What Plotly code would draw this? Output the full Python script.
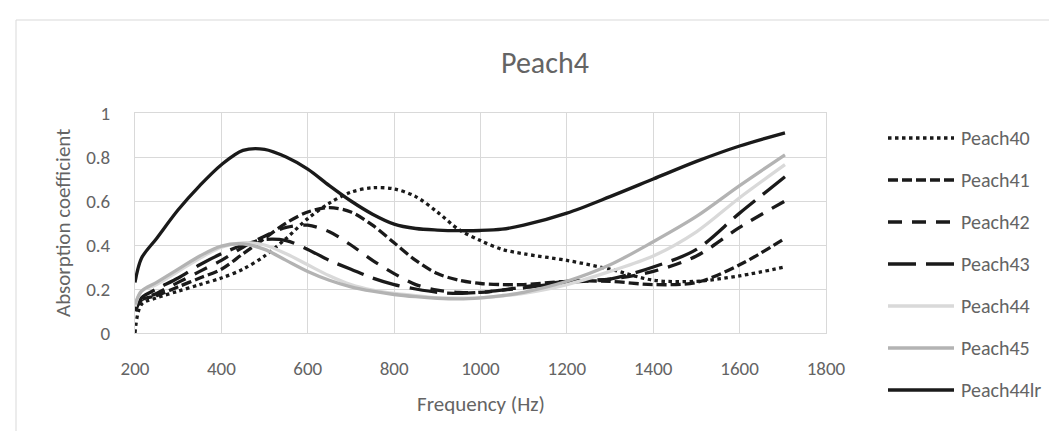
import plotly.graph_objects as go

freq = [200, 215, 250, 300, 350, 400, 450, 500, 550, 600, 650, 700, 750, 800, 850,
        900, 950, 1000, 1050, 1100, 1200, 1300, 1400, 1500, 1600, 1705]

peach40 = [0.00, 0.13, 0.16, 0.19, 0.22, 0.25, 0.29, 0.35, 0.43, 0.52, 0.59, 0.64, 0.66, 0.655, 0.62,
           0.55, 0.47, 0.42, 0.38, 0.36, 0.33, 0.29, 0.24, 0.235, 0.26, 0.30]
peach41 = [0.10, 0.15, 0.17, 0.21, 0.25, 0.29, 0.36, 0.43, 0.50, 0.55, 0.57, 0.55, 0.49, 0.41, 0.33,
           0.27, 0.24, 0.225, 0.22, 0.22, 0.235, 0.235, 0.22, 0.23, 0.31, 0.43]
peach42 = [0.10, 0.15, 0.18, 0.23, 0.28, 0.33, 0.39, 0.44, 0.48, 0.49, 0.46, 0.40, 0.33, 0.27, 0.22,
           0.195, 0.185, 0.185, 0.195, 0.21, 0.235, 0.245, 0.28, 0.35, 0.48, 0.60]
peach43 = [0.11, 0.16, 0.20, 0.25, 0.31, 0.36, 0.40, 0.425, 0.42, 0.38, 0.33, 0.29, 0.25, 0.22, 0.20,
           0.185, 0.18, 0.185, 0.195, 0.205, 0.23, 0.245, 0.30, 0.38, 0.545, 0.71]
peach44 = [0.12, 0.19, 0.22, 0.28, 0.34, 0.39, 0.41, 0.40, 0.36, 0.31, 0.26, 0.22, 0.195, 0.18, 0.17,
           0.16, 0.158, 0.16, 0.168, 0.18, 0.22, 0.28, 0.35, 0.46, 0.615, 0.765]
peach45 = [0.13, 0.19, 0.23, 0.29, 0.35, 0.395, 0.405, 0.38, 0.33, 0.28, 0.24, 0.21, 0.19, 0.175, 0.165,
           0.158, 0.155, 0.16, 0.17, 0.185, 0.235, 0.31, 0.415, 0.53, 0.67, 0.81]
peach44lr = [0.23, 0.34, 0.43, 0.56, 0.67, 0.765, 0.83, 0.835, 0.80, 0.745, 0.67, 0.60, 0.54, 0.495, 0.475,
             0.468, 0.465, 0.466, 0.472, 0.49, 0.545, 0.62, 0.70, 0.78, 0.85, 0.91]

names = ["Peach40", "Peach41", "Peach42", "Peach43", "Peach44", "Peach45", "Peach44lr"]
series = [peach40, peach41, peach42, peach43, peach44, peach45, peach44lr]
colors = ["#1a1a1a", "#1a1a1a", "#1a1a1a", "#1a1a1a", "#d9d9d9", "#b3b3b3", "#1a1a1a"]
dashes = ["3.5px,3.5px", "10px,4px", "14px,10px", "28px,10px", "solid", "solid", "solid"]

FONT = "Carlito, Calibri, Lato, sans-serif"
TXT = "#646464"
LW = 3.3

W, H = 1057, 431
L, R, T, B = 127, 818, 105, 325

fig = go.Figure()
for n, s, c, d in zip(names, series, colors, dashes):
    fig.add_trace(go.Scatter(x=freq, y=s, name=n, mode="lines",
                             line=dict(color=c, width=LW, dash=d, shape="spline", smoothing=0.9),
                             showlegend=False))

def px_x(px):
    return (px - L) / (R - L)

def px_y(py):
    return (B - py) / (B - T)

shapes = []
annotations = []
# chart-area border
shapes.append(dict(type="rect", xref="paper", yref="paper",
                   x0=px_x(8), x1=px_x(1062), y0=px_y(440), y1=px_y(12),
                   line=dict(color="#d9d9d9", width=1), fillcolor="rgba(0,0,0,0)", layer="below"))
# manual legend
for i, (n, c, d) in enumerate(zip(names, colors, dashes)):
    yy = 130 + 42 * i
    shapes.append(dict(type="line", xref="paper", yref="paper",
                       x0=px_x(880), x1=px_x(946), y0=px_y(yy), y1=px_y(yy),
                       line=dict(color=c, width=LW, dash=d)))
    annotations.append(dict(text=n, xref="paper", yref="paper", x=px_x(951), y=px_y(yy),
                            xanchor="left", yanchor="middle", showarrow=False,
                            font=dict(family=FONT, size=20, color=TXT)))

annotations.append(dict(text="Peach4", xref="paper", yref="paper", x=px_x(537), y=px_y(55),
                        xanchor="center", yanchor="middle", showarrow=False,
                        font=dict(family=FONT, size=30, color=TXT)))
annotations.append(dict(text="Frequency (Hz)", xref="paper", yref="paper", x=0.5, y=px_y(396),
                        xanchor="center", yanchor="middle", showarrow=False,
                        font=dict(family=FONT, size=21, color=TXT)))
annotations.append(dict(text="Absorption coefficient", xref="paper", yref="paper", x=px_x(55), y=0.5,
                        xanchor="center", yanchor="middle", showarrow=False, textangle=-90,
                        font=dict(family=FONT, size=21, color=TXT)))

fig.update_layout(
    width=W, height=H,
    margin=dict(l=L, r=W - R, t=T, b=H - B, pad=0),
    paper_bgcolor="white", plot_bgcolor="white",
    shapes=shapes, annotations=annotations,
    xaxis=dict(range=[200, 1800], dtick=200, tick0=200, showgrid=True, gridcolor="#d9d9d9",
               gridwidth=1, zeroline=False, showline=True, linecolor="#d9d9d9", mirror=True,
               ticks="", ticklabelstandoff=18,
               tickfont=dict(family=FONT, size=19, color=TXT)),
    yaxis=dict(range=[0, 1], dtick=0.2, showgrid=True, gridcolor="#d9d9d9", gridwidth=1,
               zeroline=False, showline=True, linecolor="#d9d9d9", mirror=True, ticks="",
               ticklabelstandoff=20, tickformat="~g",
               tickfont=dict(family=FONT, size=19, color=TXT)),
)

fig.write_html("out.html")
